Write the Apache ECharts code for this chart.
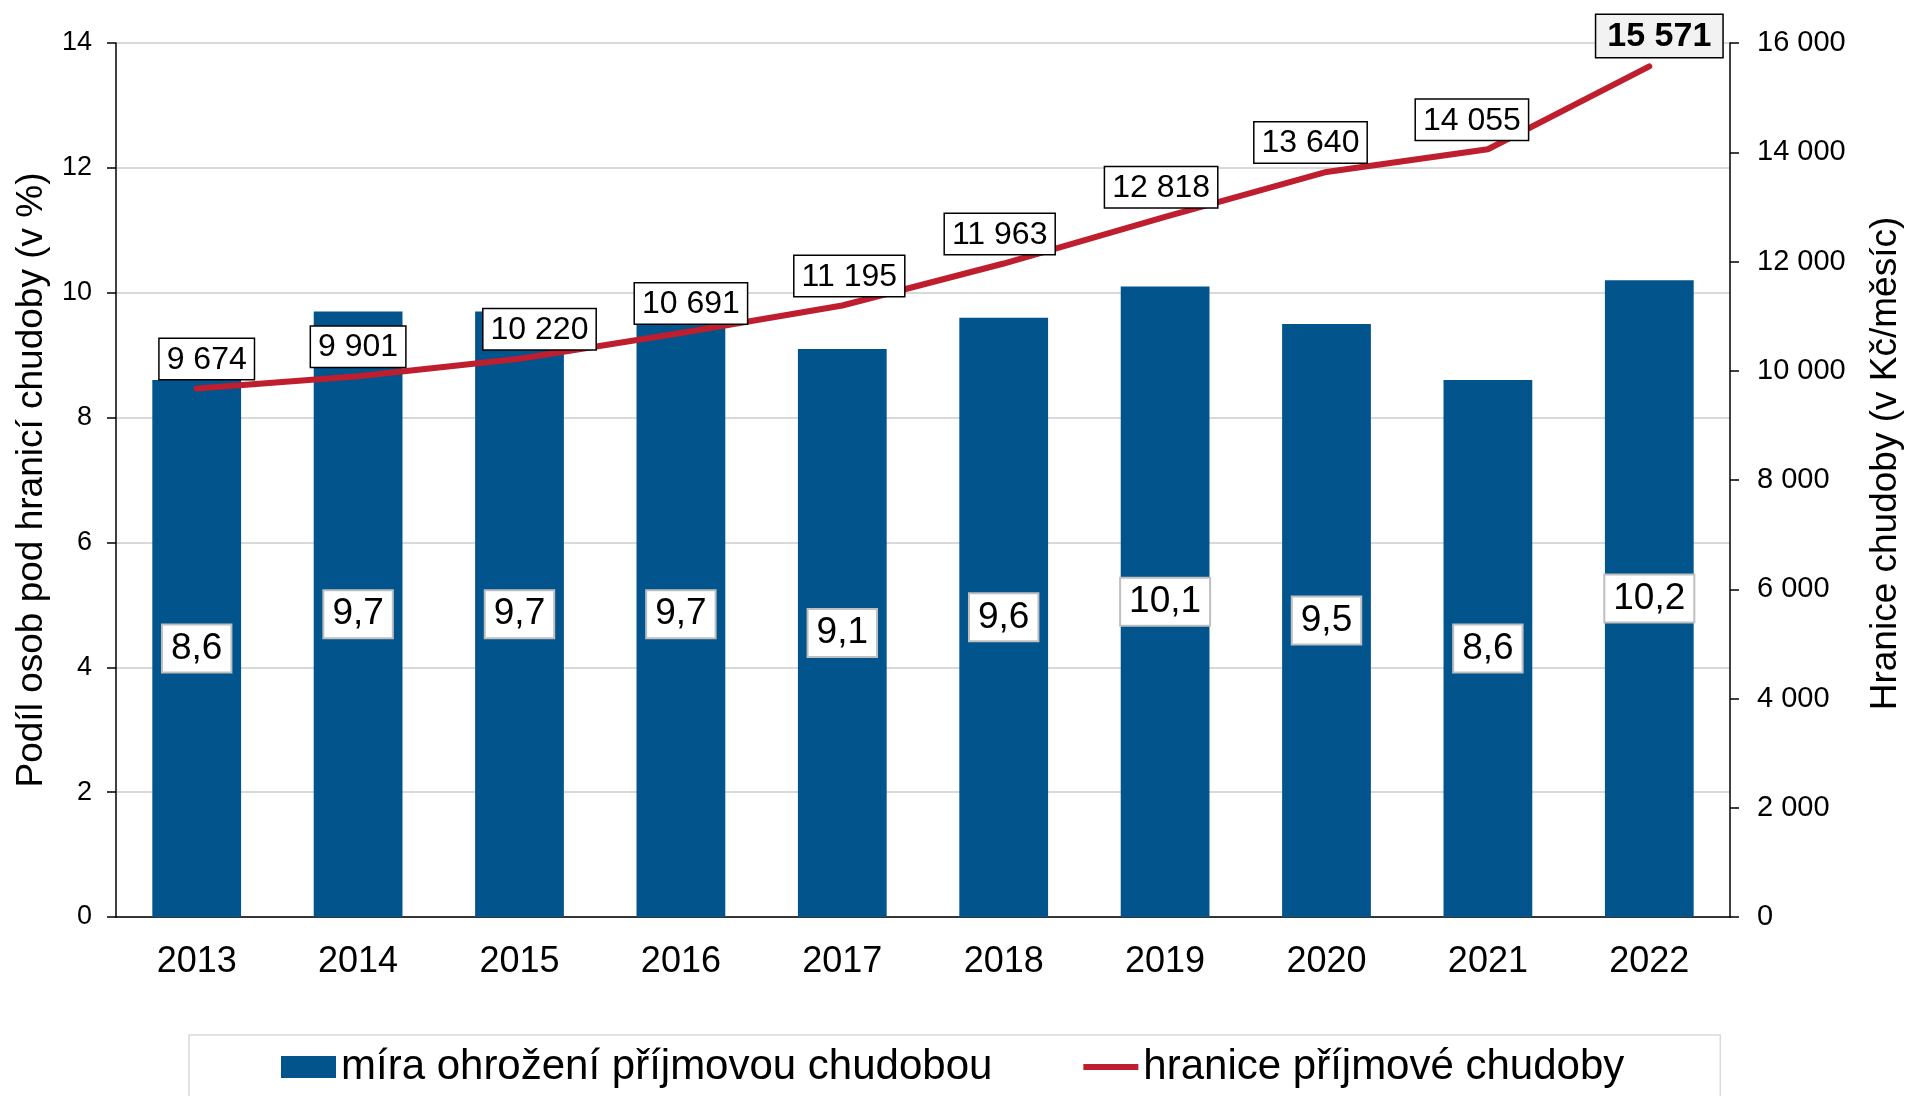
<!DOCTYPE html>
<html lang="cs">
<head>
<meta charset="utf-8">
<title>Míra ohrožení příjmovou chudobou</title>
<script src="https://cdn.jsdelivr.net/npm/echarts@6/dist/echarts.min.js"></script>
<style>
    html, body { margin: 0; padding: 0; background: #fff; }
    #chart { width: 1912px; height: 1096px; }
</style>
</head>
<body>
<div id="chart"></div>
<script>
const years = ["2013", "2014", "2015", "2016", "2017", "2018", "2019", "2020", "2021", "2022"];
const povertyRate = [8.6, 9.7, 9.7, 9.7, 9.1, 9.6, 10.1, 9.5, 8.6, 10.2];
const povertyLine = [9674, 9901, 10220, 10691, 11195, 11963, 12818, 13640, 14055, 15571];

// small sideways nudges of the threshold labels, as placed in the original
const lineLabelNudge = [10, 0, 20, 10, 7, -4, -4, -16, -16, 10];

const FONT = "Liberation Sans, Arial, sans-serif";
const BAR_COLOR = "#02548c";
const LINE_COLOR = "#be1e2d";

const thousands = (value) => String(value).replace(/\B(?=(\d{3})+(?!\d))/g, " ");
const decimalComma = (value) => value.toFixed(1).replace(".", ",");

const lastIndex = povertyLine.length - 1;
const lineData = povertyLine.map((value, index) => {
    const item = {
        value,
        label: { offset: [lineLabelNudge[index], 0] }
    };
    if (index === lastIndex) {
        item.label.fontWeight = "bold";
        item.label.fontSize = 34;
        item.label.padding = [5, 11, 3, 11];
        item.label.backgroundColor = "#f2f2f2";
    }
    return item;
});

const chart = echarts.init(document.getElementById("chart"));

chart.setOption({
    animation: false,
    textStyle: { fontFamily: FONT, color: "#000" },
    grid: { left: 116, right: 178, top: 43, bottom: 179 },
    legend: {
        left: 189,
        top: 1035,
        padding: [11, 96, 40, 92],
        itemGap: 91,
        itemWidth: 55,
        itemHeight: 22,
        borderColor: "#d9d9d9",
        borderWidth: 1.5,
        textStyle: { fontSize: 42, color: "#000", fontFamily: FONT },
        data: [
            { name: "míra ohrožení příjmovou chudobou", icon: "rect" },
            {
                name: "hranice příjmové chudoby",
                icon: "path://M0 0H55V6H0Z",
                itemStyle: { color: LINE_COLOR }
            }
        ]
    },
    xAxis: {
        type: "category",
        data: years,
        axisLine: { lineStyle: { color: "#000", width: 1.5 } },
        axisTick: { length: 9, lineStyle: { color: "#000", width: 1.5 } },
        axisLabel: { fontSize: 36, color: "#000", margin: 27 }
    },
    yAxis: [
        {
            type: "value",
            min: 0,
            max: 14,
            interval: 2,
            name: "Podíl osob pod hranicí chudoby (v %)",
            nameLocation: "middle",
            nameRotate: 90,
            nameGap: 66,
            nameTextStyle: { fontSize: 37, color: "#000" },
            axisLine: { show: true, lineStyle: { color: "#000", width: 1.5 } },
            axisTick: { show: true, length: 9, lineStyle: { color: "#000", width: 1.5 } },
            axisLabel: { fontSize: 27, color: "#000", margin: 24 },
            splitLine: { lineStyle: { color: "#d9d9d9", width: 2 } }
        },
        {
            type: "value",
            min: 0,
            max: 16000,
            interval: 2000,
            position: "right",
            name: "Hranice chudoby (v Kč/měsíc)",
            nameLocation: "middle",
            nameRotate: 90,
            nameGap: 137,
            nameTextStyle: { fontSize: 37, color: "#000", padding: [0, 0, 0, 33] },
            axisLine: { show: true, lineStyle: { color: "#000", width: 1.5 } },
            axisTick: { show: true, length: 9, lineStyle: { color: "#000", width: 1.5 } },
            axisLabel: { fontSize: 29, color: "#000", margin: 27, formatter: thousands },
            splitLine: { show: false }
        }
    ],
    series: [
        {
            name: "míra ohrožení příjmovou chudobou",
            type: "bar",
            yAxisIndex: 0,
            data: povertyRate,
            barWidth: "55%",
            itemStyle: { color: BAR_COLOR },
            label: {
                show: true,
                position: "inside",
                fontSize: 37,
                color: "#000",
                backgroundColor: "#fff",
                borderColor: "#bfbfbf",
                borderWidth: 2,
                padding: [5, 8, 4, 8],
                formatter: (p) => decimalComma(p.value)
            }
        },
        {
            name: "hranice příjmové chudoby",
            type: "line",
            yAxisIndex: 1,
            data: lineData,
            symbol: "circle",
            symbolSize: 1,
            z: 3,
            lineStyle: { color: LINE_COLOR, width: 6, cap: "round" },
            itemStyle: { color: LINE_COLOR },
            label: {
                show: true,
                position: "top",
                distance: 9,
                fontSize: 32,
                color: "#000",
                backgroundColor: "#fff",
                borderColor: "#000",
                borderWidth: 1.5,
                padding: [5, 7, 3, 7],
                formatter: (p) => thousands(p.value)
            }
        }
    ]
});
</script>
</body>
</html>
